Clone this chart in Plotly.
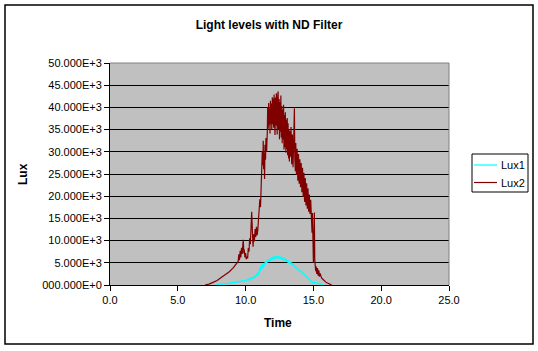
import numpy as np
import plotly.graph_objects as go

# ---- data (time in hours, values in thousands of lux) ----
lux2_time = [7.0, 7.3, 7.6, 7.9, 8.2, 8.5, 8.8, 9.1, 9.35, 9.45, 9.5, 9.55, 9.6, 9.65, 9.7, 9.75, 9.8, 9.83,
             9.87, 9.9, 9.95, 10.0, 10.05, 10.1, 10.15, 10.2, 10.25, 10.3, 10.35, 10.4, 10.45, 10.5, 10.55,
             10.6, 10.65, 10.7, 10.75, 10.8, 10.85, 10.9, 10.95, 11.0, 11.05, 11.1, 11.15, 11.2, 11.23, 11.27,
             11.3, 11.33, 11.37, 11.4, 11.43, 11.47, 11.5, 11.55, 11.6, 11.63, 11.67, 11.7, 11.73, 11.77, 11.8,
             11.83, 11.87, 11.9, 11.93, 11.97, 12.0, 12.03, 12.07, 12.1, 12.13, 12.17, 12.2, 12.23, 12.27, 12.3,
             12.33, 12.37, 12.4, 12.43, 12.47, 12.5, 12.53, 12.57, 12.6, 12.63, 12.67, 12.7, 12.73, 12.77, 12.8,
             12.83, 12.87, 12.9, 12.93, 12.97, 13.0, 13.03, 13.07, 13.1, 13.13, 13.17, 13.2, 13.23, 13.27, 13.3,
             13.35, 13.4, 13.45, 13.5, 13.55, 13.6, 13.63, 13.67, 13.7, 13.75, 13.8, 13.85, 13.9, 13.95, 14.0,
             14.05, 14.1, 14.15, 14.2, 14.25, 14.3, 14.35, 14.4, 14.45, 14.5, 14.55, 14.6, 14.65, 14.7, 14.75,
             14.8, 14.85, 14.9, 14.93, 14.97, 15.0, 15.03, 15.07, 15.1, 15.13, 15.17, 15.2, 15.25, 15.3, 15.35,
             15.4, 15.45, 15.5, 15.6, 15.7, 15.8, 15.9, 16.0, 16.1, 16.2, 16.35]
lux2_klux = [0.0, 0.2, 0.6, 1.0, 1.7, 2.3, 3.0, 3.9, 4.8, 5.3, 6.9, 5.6, 7.7, 6.2, 8.4, 7.0, 9.3, 10.2,
             7.1, 8.0, 6.2, 7.2, 5.8, 6.4, 6.0, 8.3, 7.5, 10.5, 9.2, 13.1, 16.5, 12.2, 8.6,
             11.4, 9.8, 12.6, 10.8, 13.1, 11.2, 12.4, 14.8, 16.9, 19.3, 17.5, 21.8, 24.6, 30.2, 27.0,
             32.5, 26.1, 29.8, 23.9, 31.6, 28.2, 33.1, 30.0, 34.5, 40.1, 35.2, 41.0, 36.0, 39.8, 34.1,
             41.5, 36.3, 40.9, 35.0, 42.3, 36.2, 42.0, 35.4, 42.9, 37.6, 33.8, 42.2, 35.9, 43.2, 37.5,
             33.9, 42.6, 43.6, 35.1, 41.9, 32.8, 41.2, 34.5, 42.7, 33.2, 40.3, 31.9, 39.5, 32.8, 40.6,
             30.5, 38.3, 31.0, 38.9, 29.8, 37.3, 30.6, 37.6, 29.2, 36.4, 28.5, 35.1, 27.8, 34.6, 28.9,
             35.6, 27.2, 33.9, 26.5, 33.0, 39.8, 28.4, 25.6, 32.0, 24.8, 30.7, 23.5, 29.5, 22.8, 28.3,
             22.0, 27.5, 20.9, 26.4, 19.8, 25.3, 18.7, 24.1, 17.9, 22.9, 17.2, 21.8, 16.5, 20.4, 16.0,
             19.2, 15.6, 11.8, 16.2, 8.5, 5.0, 9.4, 16.3, 5.6, 4.4, 3.1, 4.2, 2.5, 3.8, 2.1,
             3.3, 1.9, 2.6, 1.6, 1.3, 0.9, 0.7, 0.5, 0.3, 0.15, 0.0]

lux1_time = [7.8, 8.2, 8.6, 9.0, 9.4, 9.8, 10.0, 10.2, 10.3, 10.4, 10.5, 10.6, 10.7, 10.8, 10.9, 10.95, 11.0,
             11.05, 11.1, 11.15, 11.2, 11.25, 11.3, 11.35, 11.4, 11.45, 11.5, 11.55, 11.6, 11.65, 11.7, 11.75,
             11.8, 11.85, 11.9, 11.95, 12.0, 12.05, 12.1, 12.15, 12.2, 12.25, 12.3, 12.35, 12.4, 12.45, 12.5,
             12.55, 12.6, 12.65, 12.7, 12.75, 12.8, 12.85, 12.9, 12.95, 13.0, 13.05, 13.1, 13.15, 13.2, 13.25,
             13.3, 13.35, 13.4, 13.5, 13.6, 13.7, 13.8, 13.9, 14.0, 14.1, 14.2, 14.3, 14.4, 14.5, 14.6, 14.7,
             14.8, 14.9, 15.0, 15.1, 15.2, 15.3, 15.5, 15.7]
lux1_klux = [0.0, 0.1, 0.3, 0.5, 0.7, 0.9, 1.0, 1.3, 1.1, 1.6, 1.4, 1.9, 1.7, 2.4, 2.2, 2.9, 2.6,
             3.8, 3.2, 4.5, 3.6, 4.8, 3.9, 4.4, 5.0, 4.6, 5.3, 4.9, 5.6, 5.2, 5.8, 5.3,
             6.0, 5.5, 6.1, 5.6, 6.3, 5.8, 6.4, 5.9, 6.5, 6.0, 6.6, 6.1, 6.5, 6.0, 6.4,
             5.9, 6.3, 5.8, 6.2, 5.7, 6.1, 5.5, 5.9, 5.4, 5.8, 5.2, 5.6, 5.0, 5.4, 4.8,
             5.2, 4.6, 5.0, 4.5, 4.2, 4.0, 3.7, 3.5, 3.2, 3.0, 2.7, 2.4, 2.1, 1.8, 1.5, 1.2,
             0.9, 0.6, 0.4, 0.6, 0.5, 0.3, 0.1, 0.0]

series_names = ["Lux1", "Lux2"]
series_colors = ["#00FFFF", "#800000"]

y_tick_values = [0, 5000, 10000, 15000, 20000, 25000, 30000, 35000, 40000, 45000, 50000]
y_tick_labels = ["000.000E+0", "5.000E+3", "10.000E+3", "15.000E+3", "20.000E+3", "25.000E+3",
                 "30.000E+3", "35.000E+3", "40.000E+3", "45.000E+3", "50.000E+3"]
x_tick_values = [0, 5, 10, 15, 20, 25]

FONT = "Liberation Sans, Arial, sans-serif"

fig = go.Figure()
fig.add_trace(go.Scatter(x=lux1_time, y=np.array(lux1_klux) * 1000, mode="lines", name=series_names[0],
                         line=dict(color=series_colors[0], width=1.5)))
fig.add_trace(go.Scatter(x=lux2_time, y=np.array(lux2_klux) * 1000, mode="lines", name=series_names[1],
                         line=dict(color=series_colors[1], width=1.2)))

L, R, T, B = 110, 449, 63, 285
W, H = 538, 351
pw, ph = R - L, B - T

def px(xp):
    return (xp - L) / pw

def py(yp):
    return (B - yp) / ph

shapes = [
    dict(type="rect", xref="paper", yref="paper", x0=px(5), x1=px(533), y0=py(344), y1=py(5),
         line=dict(color="black", width=1.5), layer="below"),
    dict(type="line", xref="paper", yref="paper", x0=0, x1=1, y0=1, y1=1,
         line=dict(color="#808080", width=1), layer="above"),
    dict(type="line", xref="paper", yref="paper", x0=1, x1=1, y0=0, y1=1,
         line=dict(color="#808080", width=1), layer="above"),
    # legend box
    dict(type="rect", xref="paper", yref="paper", x0=px(472), x1=px(528), y0=py(192), y1=py(154),
         line=dict(color="black", width=1), fillcolor="white", layer="above"),
]
annotations = [
    dict(text="<b>Lux</b>", xref="paper", yref="paper", x=px(23), y=py(174),
         showarrow=False, textangle=-90, xanchor="center", yanchor="middle",
         font=dict(family=FONT, size=12, color="black")),
    dict(text="<b>Time</b>", xref="paper", yref="paper", x=px(278), y=py(323),
         showarrow=False, xanchor="center", yanchor="middle",
         font=dict(family=FONT, size=12, color="black")),
]
for i, (nm, col) in enumerate(zip(series_names, series_colors)):
    yy = 165 + i * 17.5
    shapes.append(dict(type="line", xref="paper", yref="paper", x0=px(474), x1=px(497),
                       y0=py(yy), y1=py(yy), line=dict(color=col, width=1.2), layer="above"))
    annotations.append(dict(text=nm, xref="paper", yref="paper", x=px(499), y=py(yy),
                            showarrow=False, xanchor="left", yanchor="middle",
                            font=dict(family=FONT, size=11, color="black")))

fig.update_layout(
    width=W, height=H,
    margin=dict(l=L, r=W - R, t=T, b=H - B, pad=0),
    paper_bgcolor="white",
    plot_bgcolor="#C0C0C0",
    font=dict(family=FONT, size=11, color="black"),
    showlegend=False,
    title=dict(text="<b>Light levels with ND Filter</b>", x=0.5, xref="container", xanchor="center",
               y=1 - 24.5 / H, yref="container", yanchor="middle",
               font=dict(family=FONT, size=12, color="black")),
    xaxis=dict(range=[0, 25], tickvals=x_tick_values, tickformat=".1f",
               showgrid=False, zeroline=False, showline=True, linecolor="black", linewidth=1,
               ticks="outside", ticklen=5, tickcolor="black", tickfont=dict(size=11)),
    yaxis=dict(range=[0, 50000], tickvals=y_tick_values, ticktext=y_tick_labels,
               showgrid=True, gridcolor="black", gridwidth=1, zeroline=False,
               showline=True, linecolor="black", linewidth=1,
               ticks="outside", ticklen=5, tickcolor="black", tickfont=dict(size=11)),
    shapes=shapes,
    annotations=annotations,
)

fig.write_html("out.html")
